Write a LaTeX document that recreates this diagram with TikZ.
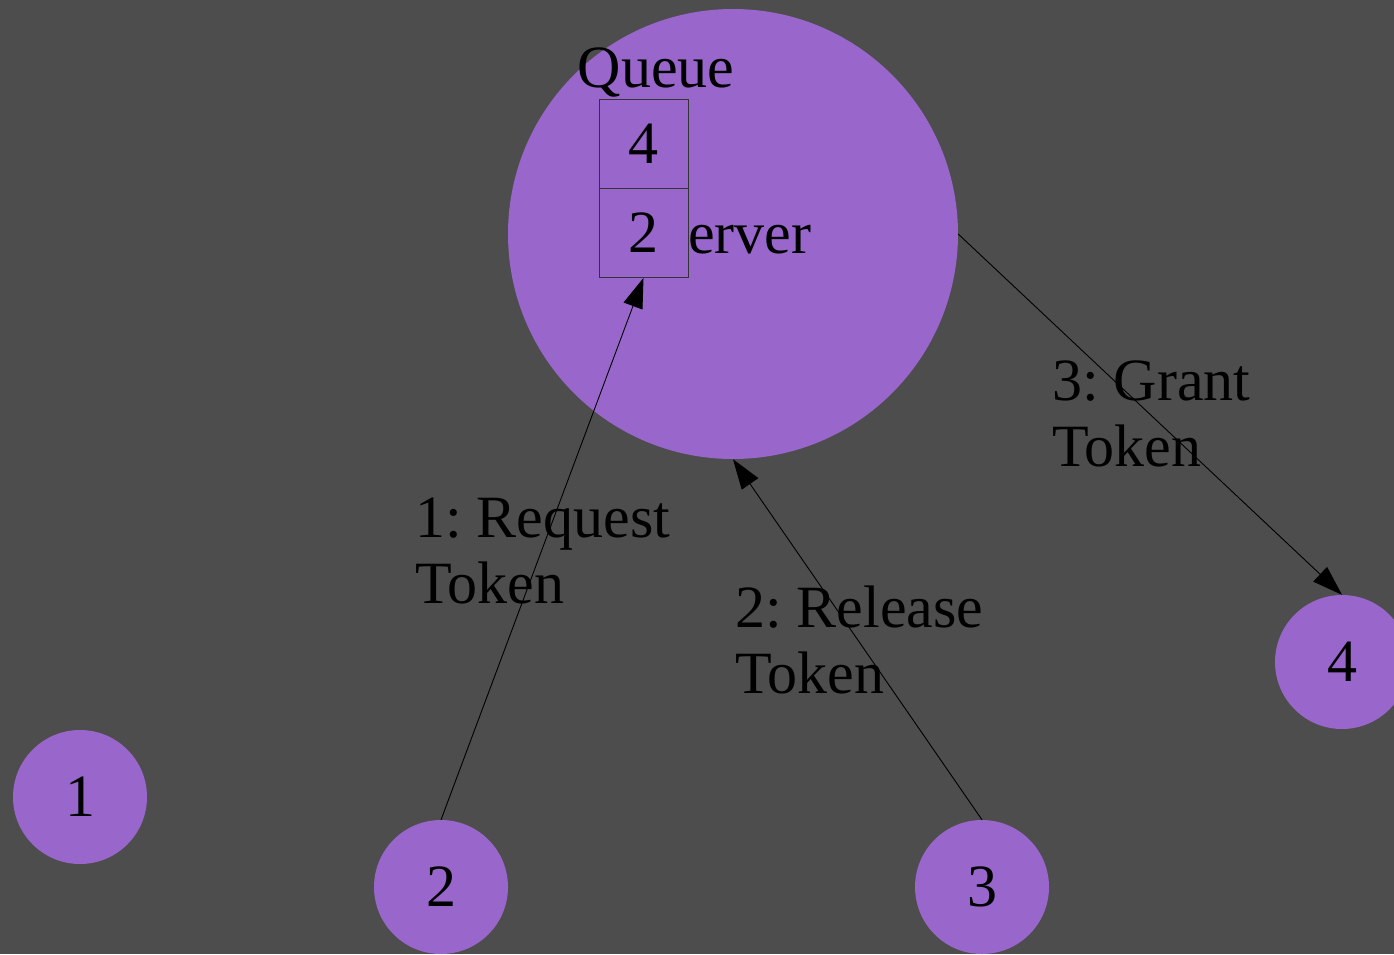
\documentclass[tikz,border=0pt]{standalone}
\usepackage{fontspec}
\setmainfont{Liberation Serif}
\usetikzlibrary{arrows.meta}
\definecolor{bg}{HTML}{4D4D4D}
\definecolor{pur}{HTML}{9966CC}
\frenchspacing
\begin{document}
\begin{tikzpicture}[x=1pt,y=-1pt,
  every node/.style={font=\fontsize{60}{66}\selectfont\frenchspacing, text=black},
  bignode/.style={circle, fill=pur, minimum size=450pt, inner sep=0pt},
  smallnode/.style={circle, fill=pur, minimum size=134pt, inner sep=0pt},
  cell/.style={draw=black!80, fill=pur, line width=0.8pt, minimum width=89pt, minimum height=89pt, inner sep=0pt},
  edge/.style={draw=black, line width=0.9pt, -{Triangle[length=30pt,width=20pt]}},
  lbl/.style={align=left, anchor=base west, inner sep=0pt}]
\fill[bg] (0,0) rectangle (1394,954);
\useasboundingbox (0,0) rectangle (1394,954);
\node[bignode] (server) at (733,234) {};
\node (servertext) at (733,234) {Server};
\node[cell] (q4) at (643.5,144) {4};
\node[cell] (q2) at (643.5,233) {2};
\node[anchor=base, inner sep=0pt] (qlabel) at (656,87) {Queue};
\node[smallnode] (n1) at (80,797) {1};
\node[smallnode] (n2) at (441,887) {2};
\node[smallnode] (n3) at (982,887) {3};
\node[smallnode] (n4) at (1342,662) {4};
\draw[edge] (n2.north) -- (q2.south);
\draw[edge] (n3.north) -- (server.south);
\draw[edge] (server.east) -- (n4.north);
\node[lbl] (l1) at (415,603) {1: Request\\Token};
\node[lbl] (l2) at (735,693) {2: Release\\Token};
\node[lbl] (l3) at (1052,466) {3: Grant\\Token};
\end{tikzpicture}
\end{document}
